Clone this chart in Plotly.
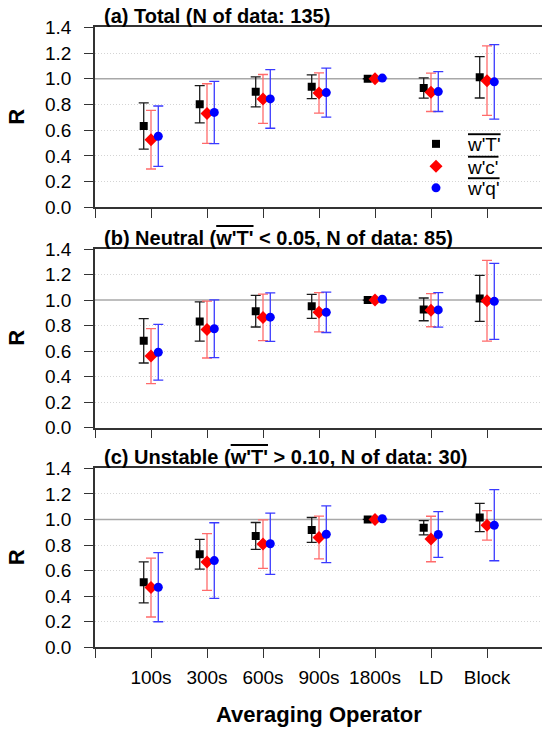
import plotly.graph_objects as go
from plotly.subplots import make_subplots

# Averaging operators on the x axis
operators = ["100s", "300s", "600s", "900s", "1800s", "LD", "Block"]
r_ticks = [0.0, 0.2, 0.4, 0.6, 0.8, 1.0, 1.2, 1.4]
grid_levels = [0.2, 0.4, 0.6, 0.8, 1.2]   # dotted guides; R = 1 gets a solid line
reference_r = 1.0

# (a) Total: mean R and standard deviation per operator
a_wT = [0.632, 0.801, 0.898, 0.938, 1.000, 0.928, 1.011]
a_wT_sd = [0.180, 0.145, 0.117, 0.092, 0.000, 0.079, 0.161]
a_wc = [0.526, 0.729, 0.843, 0.889, 1.000, 0.894, 0.985]
a_wc_sd = [0.228, 0.232, 0.190, 0.157, 0.000, 0.149, 0.270]
a_wq = [0.553, 0.738, 0.843, 0.892, 1.005, 0.900, 0.976]
a_wq_sd = [0.235, 0.242, 0.228, 0.190, 0.000, 0.155, 0.290]

# (b) Neutral
b_wT = [0.681, 0.832, 0.913, 0.951, 1.000, 0.927, 1.013]
b_wT_sd = [0.174, 0.153, 0.124, 0.094, 0.000, 0.089, 0.180]
b_wc = [0.561, 0.769, 0.864, 0.904, 1.000, 0.921, 0.995]
b_wc_sd = [0.215, 0.223, 0.182, 0.154, 0.000, 0.130, 0.316]
b_wq = [0.591, 0.775, 0.866, 0.904, 1.006, 0.923, 0.990]
b_wq_sd = [0.218, 0.226, 0.190, 0.158, 0.000, 0.135, 0.298]

# (c) Unstable
c_wT = [0.508, 0.728, 0.871, 0.918, 1.000, 0.935, 1.015]
c_wT_sd = [0.160, 0.116, 0.105, 0.097, 0.000, 0.056, 0.110]
c_wc = [0.467, 0.667, 0.807, 0.859, 1.000, 0.847, 0.954]
c_wc_sd = [0.230, 0.222, 0.190, 0.167, 0.000, 0.178, 0.115]
c_wq = [0.470, 0.678, 0.810, 0.884, 1.005, 0.882, 0.955]
c_wq_sd = [0.270, 0.296, 0.240, 0.222, 0.000, 0.179, 0.278]

panel_titles = [
    "<b>(a) Total (N of data: 135)</b>",
    "<b>(b) Neutral (<span style=\"text-decoration:overline\">w'T'</span> &lt; 0.05, N of data: 85)</b>",
    "<b>(c) Unstable (<span style=\"text-decoration:overline\">w'T'</span> &gt; 0.10, N of data: 30)</b>",
]

series_names = [
    "<span style=\"text-decoration:overline\">w'T'</span>",
    "<span style=\"text-decoration:overline\">w'c'</span>",
    "<span style=\"text-decoration:overline\">w'q'</span>",
]
marker_symbols = ["square", "diamond", "circle"]
marker_colors = ["#000000", "#ff0000", "#0000ff"]
marker_sizes = [8, 10, 9]
bar_colors = ["#1a1a1a", "#ff6b6b", "#3a3aff"]
x_offsets = [-0.13, 0.0, 0.13]
legend_ids = ["legend", "legend2", "legend3"]
legend_rows_px = [144.0, 166.5, 188.0]

panels = [
    [(a_wT, a_wT_sd), (a_wc, a_wc_sd), (a_wq, a_wq_sd)],
    [(b_wT, b_wT_sd), (b_wc, b_wc_sd), (b_wq, b_wq_sd)],
    [(c_wT, c_wT_sd), (c_wc, c_wc_sd), (c_wq, c_wq_sd)],
]

FONT = "Liberation Sans, Arial, sans-serif"
W, H = 542, 729
LEFT = 95
PX_PER_UNIT = 56
PLOT_W = W - LEFT

fig = make_subplots(rows=3, cols=1)

for p, panel in enumerate(panels):
    for s, (vals, sds) in enumerate(panel):
        xs = [i + 1 + x_offsets[s] for i in range(len(operators))]
        fig.add_trace(
            go.Scatter(
                x=xs,
                y=vals,
                mode="markers",
                name=series_names[s],
                showlegend=(p == 0),
                legend=legend_ids[s],
                marker=dict(symbol=marker_symbols[s], color=marker_colors[s],
                            size=marker_sizes[s], line=dict(width=0)),
                error_y=dict(type="data", array=sds, visible=True,
                             color=bar_colors[s], thickness=1.3, width=5),
            ),
            row=p + 1, col=1,
        )

# panel extents in pixels from the top of the page
panel_px = [(27.3, 207.3), (249.0, 427.7), (468.3, 647.3)]
x_max = PLOT_W / PX_PER_UNIT

for p, (top, bottom) in enumerate(panel_px):
    n = "" if p == 0 else str(p + 1)
    fig.layout["yaxis" + n].update(
        domain=[1 - bottom / H, 1 - top / H],
        range=[0, 1.4],
        tickmode="array", tickvals=r_ticks,
        ticktext=[f"{v:.1f}" for v in r_ticks],
        ticks="outside", ticklen=9, tickwidth=1.3, tickcolor="#333333",
        showline=True, linecolor="#333333", linewidth=1.5, mirror=False,
        showgrid=False, zeroline=False,
        minor=dict(tickmode="array", tickvals=grid_levels, ticks="",
                   showgrid=True, gridcolor="#d4d4d4", griddash="1px,2px",
                   gridwidth=1),
        tickfont=dict(family=FONT, size=19, color="#000000"),
        ticklabelstandoff=9,
    )
    fig.layout["xaxis" + n].update(
        domain=[0, 1],
        range=[0, x_max],
        tickmode="array", tickvals=list(range(len(operators) + 1)),
        ticktext=[""] + operators,
        ticks="outside", ticklen=9, tickwidth=1.3, tickcolor="#333333",
        showline=True, linecolor="#333333", linewidth=1.5, mirror=True,
        showgrid=False, zeroline=False,
        showticklabels=(p == 2),
        tickfont=dict(family=FONT, size=19, color="#000000"),
        ticklabelstandoff=3,
    )
    fig.add_hline(y=reference_r, line=dict(color="#a8a8a8", width=1.5),
                  layer="below", row=p + 1, col=1)
    xref = "x" + n + " domain"
    yref = "y" + n + " domain"
    fig.add_annotation(
        text=panel_titles[p], xref=xref, yref=yref, x=7 / PLOT_W, y=1,
        xanchor="left", yanchor="bottom", yshift=-2, showarrow=False,
        font=dict(family=FONT, size=20, color="#000000"),
    )
    fig.add_annotation(
        text="<b>R</b>", xref=xref, yref=yref, x=(16.5 - LEFT) / PLOT_W, y=0.5,
        xanchor="center", yanchor="middle", textangle=-90, showarrow=False,
        font=dict(family=FONT, size=22, color="#000000"),
    )

fig.add_annotation(
    text="<b>Averaging Operator</b>", xref="paper", yref="paper",
    x=0.5, y=1 - 714 / H, xanchor="center", yanchor="middle", showarrow=False,
    font=dict(family=FONT, size=22, color="#000000"),
)

fig.update_layout(
    width=W, height=H,
    margin=dict(l=LEFT, r=0, t=0, b=0, autoexpand=False),
    paper_bgcolor="white", plot_bgcolor="white",
    font=dict(family=FONT, size=19, color="#000000"),
)

# one single-entry legend per series, stacked inside panel (a)
for lid, row_px in zip(legend_ids, legend_rows_px):
    fig.layout[lid] = dict(
        x=(404 - LEFT) / PLOT_W, y=1 - row_px / H, xref="paper", yref="paper",
        xanchor="left", yanchor="middle",
        bgcolor="rgba(0,0,0,0)", borderwidth=0,
        font=dict(family=FONT, size=19, color="#000000"),
        itemwidth=54,
    )

fig.write_html("out.html")
